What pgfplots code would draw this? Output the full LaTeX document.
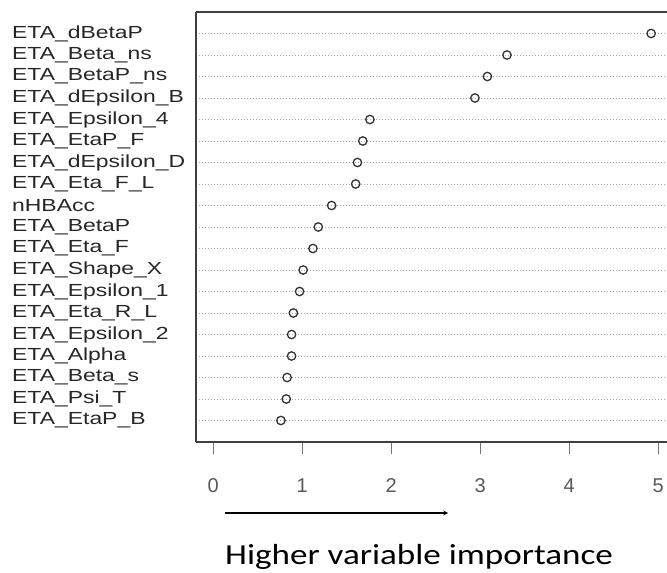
\documentclass[border=0pt]{standalone}
\usepackage{pgfplots}
\pgfplotsset{compat=1.18}
\usepackage{fontspec}
\setmainfont{Liberation Sans}
\newfontfamily\calfont{Carlito}
\newcommand{\lab}[1]{\scalebox{1.31}[1]{\fontsize{17.5}{18}\selectfont #1}}
\begin{document}
\begin{tikzpicture}
\path[use as bounding box] (0pt,0pt) rectangle (667pt,573pt);
\begin{axis}[
  at={(196pt,131pt)}, anchor=south west,
  width=471pt, height=430pt, scale only axis,
  xmin=-0.194, xmax=5.098, ymin=0, ymax=20,
  axis y line*=left, axis x line*=box,
  axis line style={black!75, line width=1.2pt},
  xtick={0,1,2,3,4,5}, xtick pos=bottom, tick align=outside,
  major tick length=12pt,
  xtick style={black!55, line width=1.5pt},
  ytick={1,...,19}, ytick style={draw=none},
  yticklabels={\lab{ETA\_EtaP\_B},\lab{ETA\_Psi\_T},\lab{ETA\_Beta\_s},\lab{ETA\_Alpha},\lab{ETA\_Epsilon\_2},\lab{ETA\_Eta\_R\_L},\lab{ETA\_Epsilon\_1},\lab{ETA\_Shape\_X},\lab{ETA\_Eta\_F},\lab{ETA\_BetaP},\lab{nHBAcc},\lab{ETA\_Eta\_F\_L},\lab{ETA\_dEpsilon\_D},\lab{ETA\_EtaP\_F},\lab{ETA\_Epsilon\_4},\lab{ETA\_dEpsilon\_B},\lab{ETA\_BetaP\_ns},\lab{ETA\_Beta\_ns},\lab{ETA\_dBetaP}},
  yticklabel style={anchor=west, xshift=-172pt, inner sep=0pt, text=black!85},
  xticklabel style={font=\fontsize{20}{20}\selectfont, text=black!65, yshift=-21pt},
  /pgf/number format/assume math mode=true,
  ymajorgrids, grid style={black!35, line width=0.8pt, dash pattern=on 1.4pt off 1.6pt},
]
\addplot[only marks, mark=o, mark size=4.2pt, mark options={draw=black!80, line width=1.3pt}] coordinates {
(4.92,19) (3.30,18) (3.08,17) (2.94,16) (1.76,15) (1.68,14) (1.62,13) (1.60,12) (1.33,11) (1.18,10)
(1.12,9) (1.01,8) (0.97,7) (0.90,6) (0.88,5) (0.88,4) (0.83,3) (0.82,2) (0.76,1)
};
\end{axis}
\draw[-stealth, line width=1.1pt] (225pt,60pt) -- (448pt,60pt);
\node[anchor=base west, inner sep=0pt] at (225pt,8pt) {\scalebox{1.21}[1]{\calfont\fontsize{29}{30}\selectfont Higher variable importance}};
\end{tikzpicture}
\end{document}
